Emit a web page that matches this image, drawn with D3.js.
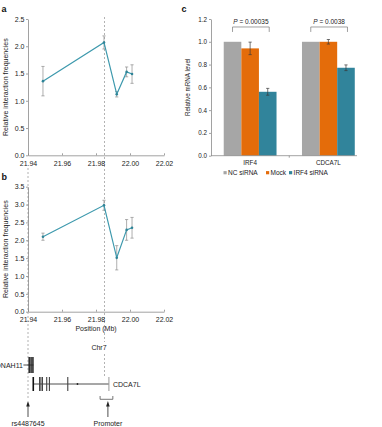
<!DOCTYPE html>
<html>
<head>
<meta charset="utf-8">
<script src="https://cdnjs.cloudflare.com/ajax/libs/d3/7.8.5/d3.min.js"></script>
<style>
  body { margin: 0; background: #fff; }
  svg { display: block; font-family: "Liberation Sans", Arial, sans-serif; }
</style>
</head>
<body>
<div id="chart"></div>
<script>
/* probe positions on chr7 (Mb), shared by panels a and b */
const positions = [21.9488, 21.9847, 21.9922, 21.9980, 22.0012];
const freqA = [1.36, 2.07, 1.12, 1.53, 1.49];
const errA  = [0.27, 0.12, 0.05, 0.09, 0.17];
const freqB = [2.10, 2.98, 1.51, 2.29, 2.35];
const errB  = [0.10, 0.14, 0.34, 0.29, 0.29];
const posTicks = [21.94, 21.96, 21.98, 22.00, 22.02];
const ticksA = [0, 0.5, 1.0, 1.5, 2.0, 2.5];
const ticksB = [0, 0.5, 1.0, 1.5, 2.0, 2.5, 3.0, 3.5];
const promoterPos = 21.985;
const snpPos = 21.94;

/* panel c: qPCR */
const genes = ["IRF4", "CDCA7L"];
const conditions = ["NC siRNA", "Mock", "IRF4 siRNA"];
const ncLevel = [1.0, 1.0];
const mockLevel = [0.942, 1.0];
const sirnaLevel = [0.561, 0.772];
const ncErr = [0, 0];
const mockErr = [0.055, 0.02];
const sirnaErr = [0.03, 0.025];
const pValues = ["0.00035", "0.0038"];
const ticksC = [0, 0.2, 0.4, 0.6, 0.8, 1.0, 1.2];

/* gene models (Mb) */
const dnah11Span = [21.9373, 21.9432];
const dnah11Exons = [21.9407, 21.9418, 21.9429];
const cdca7lSpan = [21.9431, 21.9876];
const cdca7lExons = [21.9431, 21.9468, 21.9476, 21.9485, 21.9510, 21.9526, 21.9634];
const cdca7lDot = 21.9691;
const promoterSpan = [21.9824, 21.9899];
const promoterArrow = 21.9870;

const W = 382, H = 427;
const LINE = "#3d99ad", AXIS = "#8a8a8a", TXT = "#222", DASH = "#a0a0a0";

const svg = d3.select("#chart").append("svg").attr("width", W).attr("height", H);

function styleAxis(sel, fs) {
  sel.selectAll(".domain, .tick line").attr("stroke", AXIS).attr("stroke-width", 0.8);
  sel.selectAll("text").attr("fill", TXT).style("font-size", fs + "px");
}

const x = d3.scaleLinear().domain([21.94, 22.02]).range([28, 164]);
const yA = d3.scaleLinear().domain([0, 2.5]).range([155.3, 19]);
const yB = d3.scaleLinear().domain([0, 3.5]).range([311.7, 186.7]);

/* dashed guides (behind everything) */
const guides = svg.append("g").attr("stroke", DASH).attr("stroke-width", 0.8).attr("stroke-dasharray", "2,2");
guides.append("line").attr("x1", x(promoterPos)).attr("x2", x(promoterPos)).attr("y1", 17).attr("y2", 342);
guides.append("line").attr("x1", x(promoterPos)).attr("x2", x(promoterPos)).attr("y1", 354).attr("y2", 376);
guides.append("line").attr("x1", x(snpPos)).attr("x2", x(snpPos)).attr("y1", 168).attr("y2", 400);

function interactionPanel(y, vals, errs, ticks, title) {
  const g = svg.append("g");
  const pts = positions.map((p, i) => ({ p, v: vals[i], e: errs[i] }));

  g.append("g").attr("transform", `translate(0,${y(0)})`)
    .call(d3.axisBottom(x).tickValues(posTicks).tickFormat(d3.format(".2f"))
      .tickSizeInner(-2).tickSizeOuter(0).tickPadding(5.5))
    .call(s => styleAxis(s, 7));

  g.append("g").attr("transform", `translate(${x.range()[0]},0)`)
    .call(d3.axisLeft(y).tickValues(ticks).tickFormat(d3.format(".1f"))
      .tickSizeInner(2).tickSizeOuter(0).tickPadding(1.5))
    .call(s => styleAxis(s, 7));

  const [y0, y1] = y.range();
  g.append("text").attr("transform", "rotate(-90)")
    .attr("x", -(y0 + y1) / 2).attr("y", 8).attr("text-anchor", "middle")
    .style("font-size", "7px").attr("fill", TXT).text(title);

  /* error bars */
  const eb = g.append("g").attr("stroke", "#8c8c8c").attr("stroke-width", 0.7);
  pts.forEach(d => {
    eb.append("line").attr("x1", x(d.p)).attr("x2", x(d.p)).attr("y1", y(d.v - d.e)).attr("y2", y(d.v + d.e));
    [d.v - d.e, d.v + d.e].forEach(v => {
      eb.append("line").attr("x1", x(d.p) - 1.6).attr("x2", x(d.p) + 1.6).attr("y1", y(v)).attr("y2", y(v));
    });
  });

  g.append("path").datum(pts)
    .attr("fill", "none").attr("stroke", LINE).attr("stroke-width", 1.2)
    .attr("d", d3.line().x(d => x(d.p)).y(d => y(d.v)));

  g.selectAll("circle").data(pts).enter().append("circle")
    .attr("cx", d => x(d.p)).attr("cy", d => y(d.v)).attr("r", 1.3).attr("fill", "#2f8497");
  return g;
}

interactionPanel(yA, freqA, errA, ticksA, "Relative interaction frequencies");
interactionPanel(yB, freqB, errB, ticksB, "Relative interaction frequencies");

svg.append("text").attr("x", 96).attr("y", 331).attr("text-anchor", "middle")
  .style("font-size", "7px").attr("fill", TXT).text("Position (Mb)");

/* panel letters */
[["a", 1.5, 11.5], ["b", 1.5, 180], ["c", 181.5, 11.5]].forEach(([t, lx, ly]) => {
  svg.append("text").attr("x", lx).attr("y", ly).style("font-size", "9px")
    .style("font-weight", "bold").attr("fill", "#111").text(t);
});

/* ---- panel c ---- */
const yC = d3.scaleLinear().domain([0, 1.2]).range([155.7, 19]);
const x0 = d3.scaleBand().domain(genes).range([211, 367.5]);
const x1 = d3.scaleBand().domain(conditions).range([0, 52.8]);
const color = d3.scaleOrdinal(conditions, ["#a6a6a6", "#e46c0a", "#31849b"]);
const levels = [ncLevel, mockLevel, sirnaLevel];
const levelErr = [ncErr, mockErr, sirnaErr];
const groupLeft = gname => x0(gname) + x0.bandwidth() / 2 - x1.range()[1] / 2;

const bars = genes.flatMap((gname, gi) => conditions.map((c, ci) => ({
  gene: gname, cond: c, v: levels[ci][gi], e: levelErr[ci][gi]
})));

const gc = svg.append("g");

gc.selectAll("rect").data(bars).enter().append("rect")
  .attr("x", d => groupLeft(d.gene) + x1(d.cond))
  .attr("width", x1.bandwidth())
  .attr("y", d => yC(d.v))
  .attr("height", d => yC(0) - yC(d.v))
  .attr("fill", d => color(d.cond));

const ebc = gc.append("g").attr("stroke", "#3a3a3a").attr("stroke-width", 0.7);
bars.filter(d => d.e > 0).forEach(d => {
  const cx = groupLeft(d.gene) + x1(d.cond) + x1.bandwidth() / 2;
  ebc.append("line").attr("x1", cx).attr("x2", cx).attr("y1", yC(d.v - d.e)).attr("y2", yC(d.v + d.e));
  [d.v - d.e, d.v + d.e].forEach(v => {
    ebc.append("line").attr("x1", cx - 1.6).attr("x2", cx + 1.6).attr("y1", yC(v)).attr("y2", yC(v));
  });
});

const xAxC = gc.append("g").attr("transform", `translate(0,${yC(0)})`)
  .call(d3.axisBottom(x0).tickSize(0).tickPadding(5))
  .call(s => styleAxis(s, 6.3));
xAxC.select(".domain").attr("d", `M${x0.range()[0]},0H357`);
xAxC.append("line").attr("x1", x0(genes[1])).attr("x2", x0(genes[1]))
  .attr("y1", 0).attr("y2", 2).attr("stroke", AXIS).attr("stroke-width", 0.8);

gc.append("g").attr("transform", `translate(${x0.range()[0]},0)`)
  .call(d3.axisLeft(yC).tickValues(ticksC).tickFormat(d3.format(".1f"))
    .tickSizeInner(2).tickSizeOuter(0).tickPadding(2))
  .call(s => styleAxis(s, 6.3));

gc.append("text").attr("transform", "rotate(-90)")
  .attr("x", -(yC.range()[0] + yC.range()[1]) / 2).attr("y", 190).attr("text-anchor", "middle")
  .style("font-size", "6.3px").attr("fill", TXT).text("Relative mRNA level");

/* significance brackets */
genes.forEach((gname, gi) => {
  const xl = groupLeft(gname) + x1(conditions[0]) + x1.bandwidth() / 2;
  const xr = groupLeft(gname) + x1(conditions[2]) + x1.bandwidth() / 2 + 1.5;
  const yb = yC(1.13);
  gc.append("path").attr("d", `M${xl},${yb + 5}V${yb}H${xr}V${yb + 5}`)
    .attr("fill", "none").attr("stroke", "#777").attr("stroke-width", 0.7);
  const t = gc.append("text").attr("x", (xl + xr) / 2).attr("y", yb - 3)
    .attr("text-anchor", "middle").style("font-size", "6.5px").attr("fill", TXT);
  t.append("tspan").style("font-style", "italic").text("P");
  t.append("tspan").text(" = " + pValues[gi]);
});

/* legend */
const legendX = [223.5, 266, 289];
conditions.forEach((c, i) => {
  const lg = gc.append("g").attr("transform", `translate(${legendX[i]},172.7)`);
  lg.append("rect").attr("x", 0).attr("y", -1.6).attr("width", 3.2).attr("height", 3.2).attr("fill", color(c));
  lg.append("text").attr("x", 4.6).attr("y", 2.3).style("font-size", "6.5px").attr("fill", TXT).text(c);
});

/* ---- gene models ---- */
const gm = svg.append("g").attr("fill", TXT).style("font-size", "7px");

gm.append("text").attr("x", x(promoterPos) - 5.5).attr("y", 350).attr("text-anchor", "middle").text("Chr7");

gm.append("line").attr("x1", x(dnah11Span[0])).attr("x2", x(dnah11Span[1]))
  .attr("y1", 365).attr("y2", 365).attr("stroke", "#222").attr("stroke-width", 0.8);
dnah11Exons.forEach(p => {
  gm.append("line").attr("x1", x(p)).attr("x2", x(p)).attr("y1", 357).attr("y2", 373)
    .attr("stroke", "#222").attr("stroke-width", 1.5);
});
gm.append("text").attr("x", x(dnah11Span[0]) - 0.5).attr("y", 367.5).attr("text-anchor", "end").text("DNAH11");

gm.append("line").attr("x1", x(cdca7lSpan[0])).attr("x2", x(cdca7lSpan[1]))
  .attr("y1", 384).attr("y2", 384).attr("stroke", "#222").attr("stroke-width", 0.8);
cdca7lExons.forEach((p, i) => {
  gm.append("line").attr("x1", x(p)).attr("x2", x(p)).attr("y1", 377).attr("y2", 391)
    .attr("stroke", i === 0 ? "#111" : "#444").attr("stroke-width", i === 0 ? 1.6 : 1.1);
});
gm.append("line").attr("x1", x(cdca7lSpan[1])).attr("x2", x(cdca7lSpan[1])).attr("y1", 377).attr("y2", 391)
  .attr("stroke", "#999").attr("stroke-width", 1);
gm.append("circle").attr("cx", x(cdca7lDot)).attr("cy", 384).attr("r", 0.9).attr("fill", "#222");
gm.append("text").attr("x", x(cdca7lSpan[1]) + 4).attr("y", 386.5).text("CDCA7L");

gm.append("path")
  .attr("d", `M${x(promoterSpan[0])},396V399.3H${x(promoterSpan[1])}V396`)
  .attr("fill", "none").attr("stroke", "#555").attr("stroke-width", 0.8);

[[snpPos, "rs4487645"], [promoterArrow, "Promoter"]].forEach(([p, label]) => {
  const ax = x(p);
  gm.append("line").attr("x1", ax).attr("x2", ax).attr("y1", 417).attr("y2", 404)
    .attr("stroke", "#222").attr("stroke-width", 0.8);
  gm.append("path").attr("d", `M${ax},401L${ax - 1.8},406.5L${ax + 1.8},406.5Z`).attr("fill", "#222");
  gm.append("text").attr("x", ax).attr("y", 426).attr("text-anchor", "middle").text(label);
});
</script>
</body>
</html>
